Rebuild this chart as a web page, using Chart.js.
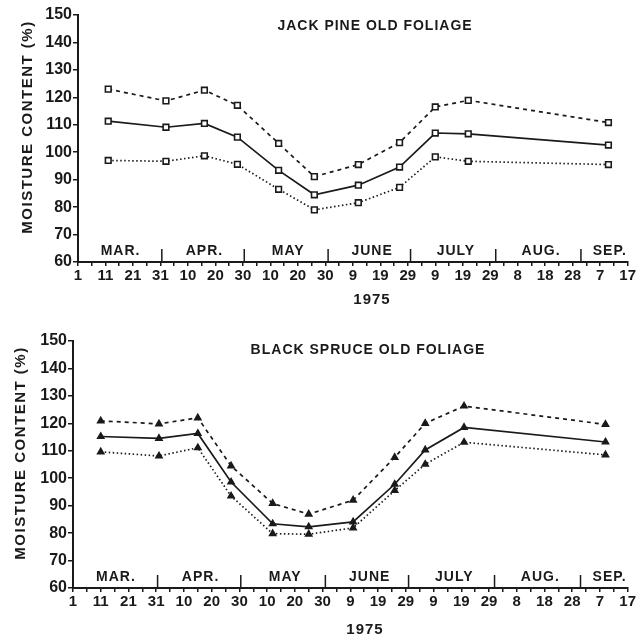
<!DOCTYPE html>
<html lang="en">
<head>
    <meta charset="UTF-8">
    <title>Moisture Content of Old Foliage, 1975</title>
    <script src="https://cdn.jsdelivr.net/npm/chart.js"></script>
    <style>
        body {
            margin: 0;
            background: #fff;
        }
        .panel {
            position: absolute;
            left: 0;
            width: 637px;
        }
        #topPanel { top: 0; height: 318px; }
        #bottomPanel { top: 318px; height: 319px; }
    </style>
</head>
<body>

<div class="panel" id="topPanel"><canvas id="pineChart"></canvas></div>
<div class="panel" id="bottomPanel"><canvas id="spruceChart"></canvas></div>

<script>
    // x values are days counted from March 1 (day 0 = Mar 1)
    const tickLabels = ['1', '11', '21', '31', '10', '20', '30', '10', '20', '30',
        '9', '19', '29', '9', '19', '29', '8', '18', '28', '7', '17'];
    const months = ['MAR.', 'APR.', 'MAY', 'JUNE', 'JULY', 'AUG.', 'SEP.'];
    const monthCenters = [15.5, 46, 76.5, 107, 137.5, 168.5, 193.5];
    const monthBreaks = [30.5, 60.5, 91, 121, 152, 183];

    // Jack pine
    const pineDays = [11, 32, 46, 58, 73, 86, 102, 117, 130, 142, 193];
    const pineUpper = [123, 118.7, 122.6, 117.1, 103.2, 91.1, 95.5, 103.5, 116.5, 118.9, 110.8];
    const pineMean = [111.3, 109.1, 110.5, 105.5, 93.4, 84.5, 88, 94.6, 107, 106.7, 102.6];
    const pineLower = [97, 96.7, 98.7, 95.6, 86.5, 79, 81.6, 87.2, 98.3, 96.7, 95.5];

    // Black spruce
    const spruceDays = [10, 31, 45, 57, 72, 85, 101, 116, 127, 141, 192];
    const spruceUpper = [120.9, 119.8, 122, 104.5, 90.8, 86.9, 92, 107.6, 120, 126.3, 119.6];
    const spruceMean = [115.2, 114.5, 116.3, 98.6, 83.4, 82.3, 84.1, 97.8, 110.3, 118.5, 113.2];
    const spruceLower = [109.6, 108.1, 111.1, 93.5, 79.8, 79.6, 81.9, 95.5, 105.1, 113.1, 108.5];

    const ink = '#1a1a1a';
    const fontFamily = '"Liberation Sans", Arial, sans-serif';

    const toPoints = (xs, ys) => xs.map((x, i) => ({ x: x, y: ys[i] }));

    // draws panel title, month names, month separators, year and y title
    const decorations = {
        id: 'decorations',
        afterDraw(chart, args, opts) {
            const { ctx, chartArea } = chart;
            const x = chart.scales.x;
            ctx.save();
            ctx.fillStyle = ink;
            ctx.strokeStyle = ink;
            ctx.textAlign = 'center';
            ctx.textBaseline = 'middle';

            ctx.font = 'bold 14px ' + fontFamily;
            ctx.letterSpacing = '1px';
            ctx.fillText(opts.title, opts.titleX, opts.titleY);

            ctx.font = 'bold 14px ' + fontFamily;
            ctx.letterSpacing = '1px';
            months.forEach((m, i) => {
                ctx.fillText(m, x.getPixelForValue(monthCenters[i]), chartArea.bottom - 11);
            });

            ctx.lineWidth = 1.5;
            monthBreaks.forEach(d => {
                const px = x.getPixelForValue(d);
                ctx.beginPath();
                ctx.moveTo(px, chartArea.bottom);
                ctx.lineTo(px, chartArea.bottom - 13);
                ctx.stroke();
            });

            ctx.font = 'bold 15px ' + fontFamily;
            ctx.letterSpacing = '1px';
            ctx.fillText('1975', opts.yearX, opts.yearY);

            ctx.font = 'bold 15px ' + fontFamily;
            ctx.letterSpacing = '1.5px';
            ctx.translate(opts.yTitleX, opts.yTitleY);
            ctx.rotate(-Math.PI / 2);
            ctx.fillText('MOISTURE CONTENT (%)', 0, 0);
            ctx.restore();
        }
    };

    function makeChart(canvasId, days, upper, mean, lower, marker, layout) {
        const filled = marker === 'triangle';
        const base = {
            borderColor: ink,
            borderWidth: 1.7,
            pointStyle: marker,
            pointRadius: filled ? 3.5 : 4,
            pointBorderWidth: 1.6,
            pointBorderColor: ink,
            pointBackgroundColor: filled ? ink : '#fff',
            fill: false,
            tension: 0
        };
        return new Chart(document.getElementById(canvasId), {
            type: 'line',
            data: {
                datasets: [
                    Object.assign({ label: 'Upper', data: toPoints(days, upper), borderDash: [4, 4] }, base),
                    Object.assign({ label: 'Mean', data: toPoints(days, mean) }, base),
                    Object.assign({ label: 'Lower', data: toPoints(days, lower), borderDash: [1.5, 2.5] }, base)
                ]
            },
            options: {
                responsive: true,
                maintainAspectRatio: false,
                animation: false,
                layout: {
                    padding: { top: layout.top, right: 637 - layout.right, left: 0, bottom: 0 }
                },
                plugins: {
                    legend: { display: false },
                    tooltip: { enabled: false },
                    decorations: layout.deco
                },
                scales: {
                    x: {
                        type: 'linear',
                        min: 0,
                        max: 200,
                        afterFit: s => { s.height = layout.xHeight; },
                        afterBuildTicks: s => {
                            s.ticks = [];
                            for (let v = 0; v <= 200; v += 5) s.ticks.push({ value: v });
                        },
                        ticks: {
                            autoSkip: false,
                            maxRotation: 0,
                            padding: 1,
                            color: ink,
                            font: { family: fontFamily, size: 15, weight: 'bold' },
                            callback: v => (v % 10 === 0 ? tickLabels[v / 10] : '')
                        },
                        grid: { drawOnChartArea: false, tickLength: 4, color: ink, lineWidth: 1.5 },
                        border: { color: ink, width: 2 }
                    },
                    y: {
                        min: 60,
                        max: 150,
                        afterFit: s => { s.width = layout.left; },
                        ticks: {
                            stepSize: 5,
                            padding: 1,
                            color: ink,
                            font: { family: fontFamily, size: 16, weight: 'bold' },
                            callback: v => (v % 10 === 0 ? v : '')
                        },
                        grid: { drawOnChartArea: false, tickLength: 5, color: ink, lineWidth: 1.5 },
                        border: { color: ink, width: 2 }
                    }
                }
            },
            plugins: [decorations]
        });
    }

    makeChart('pineChart', pineDays, pineUpper, pineMean, pineLower, 'rect', {
        top: 15, left: 78, right: 628, xHeight: 56,
        deco: { title: 'JACK PINE OLD FOLIAGE', titleX: 375, titleY: 26, yearX: 372, yearY: 300, yTitleX: 28, yTitleY: 127 }
    });

    makeChart('spruceChart', spruceDays, spruceUpper, spruceMean, spruceLower, 'triangle', {
        top: 23, left: 73, right: 628, xHeight: 49,
        deco: { title: 'BLACK SPRUCE OLD FOLIAGE', titleX: 368, titleY: 32, yearX: 365, yearY: 312, yTitleX: 21, yTitleY: 135 }
    });
</script>

</body>
</html>
